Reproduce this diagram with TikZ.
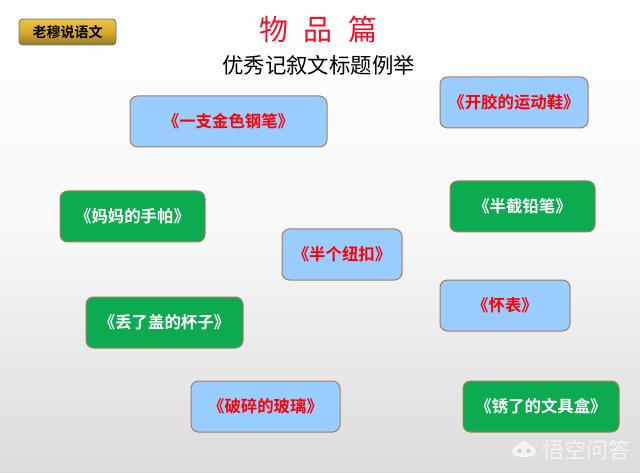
\documentclass[tikz,border=0pt]{standalone}
\usepackage{fontspec}
\newfontfamily\cjk{Noto Sans CJK SC}
\newfontfamily\cjkb{Noto Sans CJK SC Bold}
\definecolor{bluebox}{HTML}{99CCFF}
\definecolor{greenbox}{HTML}{0DAB4F}
\definecolor{edgebrown}{HTML}{A87C5F}
\definecolor{titlered}{HTML}{F0102A}
\definecolor{goldtop}{HTML}{E9C24A}
\definecolor{goldmid}{HTML}{DDA92A}
\definecolor{goldbot}{HTML}{8F7A2E}
\definecolor{wmark}{HTML}{F4F4F4}
\begin{document}
\begin{tikzpicture}[x=1pt,y=-1pt,
  card/.style={draw=edgebrown,line width=1pt,rounded corners=7.5pt,inner sep=0pt,font=\cjkb\fontsize{16.4}{16.4}\selectfont},
  bluecard/.style={card,fill=bluebox,text=red},
  greencard/.style={card,fill=greenbox,text=white}]
\useasboundingbox (0,0) rectangle (640,473);
\shade[top color=white,bottom color=white!86!black,middle color=white!97!black] (0,0) rectangle (640,473);
% badge
\node[draw=black!55,line width=0.8pt,rounded corners=3.5pt,top color=goldtop,bottom color=goldbot,middle color=goldmid,minimum width=97pt,minimum height=26pt,inner sep=0pt,font=\cjkb\fontsize{14}{14}\selectfont,text=black] (badge) at (67.5,32) {老穆说语文};
% titles
\node[inner sep=0pt,text=titlered,font=\cjk\fontsize{29}{29}\selectfont] (title) at (318.5,29) {物\hspace{15.5pt}品\hspace{15.5pt}篇};
\node[inner sep=0pt,text=black,font=\cjk\fontsize{21.4}{22}\selectfont] (sub) at (318.5,65) {优秀记叙文标题例举};
% cards
\node[bluecard,minimum width=197pt,minimum height=51pt] (a) at (228.5,121.5) {《一支金色钢笔》};
\node[bluecard,minimum width=148pt,minimum height=51pt] (b) at (514,102.5) {《开胶的运动鞋》};
\node[greencard,minimum width=145pt,minimum height=51pt] (c) at (132.5,216.5) {《妈妈的手帕》};
\node[greencard,minimum width=145pt,minimum height=51pt] (d) at (522.5,206.5) {《半截铅笔》};
\node[bluecard,minimum width=120pt,minimum height=51pt] (e) at (342,254.5) {《半个纽扣》};
\node[bluecard,minimum width=130pt,minimum height=51pt] (f) at (505,305.5) {《怀表》};
\node[greencard,minimum width=157pt,minimum height=51pt] (g) at (164.5,322.5) {《丢了盖的杯子》};
\node[bluecard,minimum width=149pt,minimum height=51pt] (h) at (265.5,406.5) {《破碎的玻璃》};
\node[greencard,minimum width=156pt,minimum height=51pt] (i) at (541,406.5) {《锈了的文具盒》};
% watermark
\node[inner sep=0pt,text=wmark,font=\cjk\fontsize{22}{22}\selectfont] (wm) at (586.5,450) {悟空问答};
\fill[wmark] (512,452) .. controls (512,446) and (518,445) .. (519,444) .. controls (520,440) and (527,440) .. (528,444) .. controls (530,445) and (536,446) .. (536,452) .. controls (536,456) and (530,457) .. (524,457) .. controls (518,457) and (512,456) .. (512,452) -- cycle;
\fill[black!18] (519.5,451) circle (2.2pt) (528.5,451) circle (2.2pt);
\end{tikzpicture}
\end{document}
